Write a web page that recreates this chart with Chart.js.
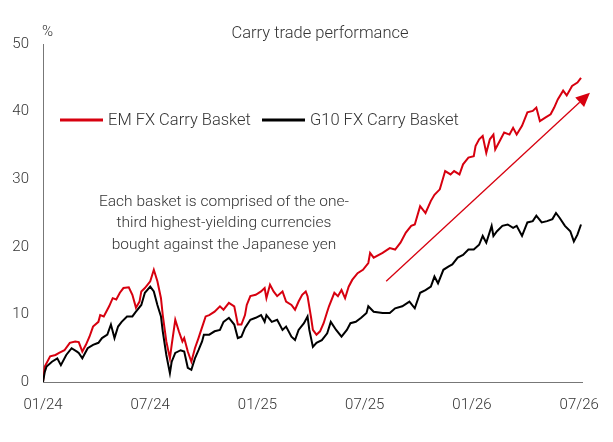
<!DOCTYPE html>
<html>
<head>
<meta charset="utf-8">
<title>Carry trade performance</title>
<script src="https://cdn.jsdelivr.net/npm/chart.js@4.4.1/dist/chart.umd.min.js"></script>
<style>
  html, body { margin: 0; padding: 0; background: #fff; }
  #wrap { width: 613px; height: 442px; }
</style>
</head>
<body>
<div id="wrap"><canvas id="carry-chart" width="613" height="442"></canvas></div>
<script>
// Dados (x = meses desde 01/24, y = %)
const tickMonths = [0, 6, 12, 18, 24, 30];
const tickLabels = ['01/24', '07/24', '01/25', '07/25', '01/26', '07/26'];

const emMonths = [
  0.0, 0.1, 0.4, 0.7, 0.9, 1.2, 1.5, 1.8, 2.0, 2.2, 2.4, 2.6, 2.8, 3.1, 3.2, 3.4, 3.7, 3.9, 4.1, 4.3,
  4.5, 4.8, 5.0, 5.2, 5.4, 5.5, 5.7, 6.0, 6.2, 6.4, 6.6, 6.7, 6.9, 7.1, 7.2, 7.4, 7.6, 7.8, 7.9, 8.1,
  8.3, 8.5, 8.7, 8.8, 9.0, 9.1, 9.3, 9.6, 9.9, 10.1, 10.4, 10.7, 10.9, 11.1, 11.3, 11.4, 11.6, 11.9, 12.2, 12.4,
  12.5, 12.7, 12.9, 13.1, 13.4, 13.6, 13.9, 14.1, 14.3, 14.5, 14.7, 14.8, 15.0, 15.1, 15.3, 15.5, 15.7, 15.9, 16.0, 16.3,
  16.5, 16.7, 16.9, 17.1, 17.3, 17.6, 17.9, 18.2, 18.3, 18.5, 19.0, 19.4, 19.7, 20.0, 20.3, 20.6, 20.8, 21.1, 21.4, 21.7,
  21.9, 22.2, 22.5, 22.8, 23.0, 23.3, 23.5, 23.8, 24.1, 24.2, 24.4, 24.6, 24.8, 25.0, 25.2, 25.3, 25.5, 25.8, 26.1, 26.3,
  26.5, 26.8, 27.1, 27.4, 27.6, 27.8, 28.1, 28.4, 28.6, 28.8, 29.1, 29.3, 29.6, 29.9, 30.1
];
const emValues = [
  0.0, 2.3, 3.8, 4.0, 4.3, 4.7, 5.8, 6.0, 5.9, 4.5, 5.5, 6.7, 8.2, 8.9, 9.9, 9.7, 11.2, 12.4, 12.2, 13.2,
  13.9, 14.0, 12.9, 11.0, 11.9, 13.4, 13.9, 14.9, 16.6, 14.9, 12.4, 9.9, 6.0, 3.5, 5.5, 9.2, 7.5, 6.0, 6.5, 4.5,
  3.0, 5.0, 6.5, 7.3, 8.9, 9.7, 9.9, 10.4, 11.2, 10.7, 11.7, 11.2, 8.5, 8.5, 9.9, 11.4, 12.7, 12.9, 13.4, 13.9,
  12.4, 14.4, 13.4, 12.7, 13.4, 11.9, 11.4, 10.7, 11.9, 12.9, 13.4, 12.7, 9.5, 7.7, 7.0, 7.5, 8.7, 10.4, 11.2, 13.2,
  12.7, 13.6, 12.4, 14.1, 15.1, 16.1, 16.6, 17.6, 19.1, 18.4, 19.1, 19.8, 19.6, 20.6, 22.1, 23.1, 23.3, 26.0, 25.0, 26.8,
  27.7, 28.5, 31.2, 30.7, 31.2, 30.7, 32.2, 33.2, 33.4, 34.9, 35.9, 36.4, 33.9, 35.9, 36.6, 34.4, 35.4, 36.9, 36.6, 37.6,
  36.6, 37.9, 39.9, 40.1, 40.6, 38.6, 39.1, 39.6, 40.6, 41.8, 43.1, 42.4, 43.8, 44.3, 45.0
];

const g10Months = [
  0.0, 0.1, 0.2, 0.5, 0.8, 1.0, 1.3, 1.6, 1.9, 2.0, 2.2, 2.5, 2.8, 3.1, 3.3, 3.6, 3.8, 4.0, 4.2, 4.4,
  4.7, 5.0, 5.2, 5.5, 5.7, 6.0, 6.2, 6.4, 6.6, 6.7, 6.9, 7.1, 7.2, 7.4, 7.7, 7.9, 8.1, 8.3, 8.5, 8.7,
  8.9, 9.0, 9.3, 9.6, 9.9, 10.1, 10.4, 10.7, 10.9, 11.1, 11.3, 11.6, 11.9, 12.2, 12.4, 12.5, 12.8, 13.1, 13.4, 13.6,
  13.9, 14.1, 14.3, 14.6, 14.8, 14.9, 15.1, 15.3, 15.6, 15.9, 16.1, 16.4, 16.7, 17.0, 17.2, 17.5, 17.8, 18.1, 18.2, 18.5,
  19.0, 19.4, 19.7, 20.1, 20.5, 20.8, 21.1, 21.4, 21.7, 21.9, 22.1, 22.4, 22.7, 22.9, 23.2, 23.5, 23.8, 24.1, 24.4, 24.6,
  24.8, 25.1, 25.2, 25.4, 25.7, 26.0, 26.3, 26.5, 26.8, 27.1, 27.4, 27.6, 27.9, 28.2, 28.5, 28.7, 28.9, 29.2, 29.5, 29.7,
  29.9, 30.1
];
const g10Values = [
  0.0, 1.5, 2.3, 3.0, 3.5, 2.5, 4.0, 5.0, 4.5, 4.3, 3.5, 5.0, 5.5, 5.8, 6.5, 7.0, 8.5, 6.5, 8.2, 8.9,
  9.7, 9.7, 10.4, 11.4, 13.2, 14.1, 13.4, 11.4, 9.7, 7.5, 4.0, 1.3, 3.0, 4.3, 4.7, 4.5, 2.1, 1.8, 3.5, 4.7,
  6.0, 7.0, 7.0, 7.5, 7.7, 8.9, 9.5, 8.5, 6.5, 6.7, 8.0, 9.2, 9.5, 9.9, 8.9, 9.9, 8.9, 9.2, 7.7, 8.2,
  6.7, 6.2, 7.7, 8.7, 9.7, 7.7, 5.2, 5.8, 6.2, 7.2, 8.9, 7.7, 6.7, 7.7, 8.7, 8.9, 9.5, 10.2, 11.2, 10.4,
  10.2, 10.2, 10.9, 11.2, 11.9, 10.9, 13.2, 13.6, 14.1, 15.6, 14.6, 16.6, 17.1, 17.4, 18.4, 18.8, 19.6, 19.6, 20.3, 21.6,
  20.6, 23.1, 21.6, 22.3, 23.1, 23.3, 22.8, 23.1, 21.6, 23.6, 23.8, 24.6, 23.6, 23.8, 24.1, 25.0, 24.3, 23.1, 22.3, 20.8,
  21.8, 23.3
];

const annotationLines = [
  'Each basket is comprised of the one-',
  'third highest-yielding currencies',
  'bought against the Japanese yen'
];

const RED = '#d7000f';
const BLACK = '#000000';
const TEXT = '#333333';
const FONT = 'Roboto, "Liberation Sans", Arial, sans-serif';

function toPoints(xs, ys) {
  return xs.map((x, i) => ({ x: x, y: ys[i] }));
}

// Textos, legenda e seta desenhados sobre o gráfico
const overlayPlugin = {
  id: 'overlay',
  afterDraw(chart) {
    const ctx = chart.ctx;
    const xs = chart.scales.x;
    const ys = chart.scales.y;
    ctx.save();
    ctx.fillStyle = TEXT;
    ctx.textBaseline = 'middle';

    // titulo
    ctx.font = '300 16.5px ' + FONT;
    ctx.textAlign = 'center';
    ctx.fillText('Carry trade performance', 320, 34);

    // unidade
    ctx.font = '300 15px ' + FONT;
    ctx.textAlign = 'left';
    ctx.fillText('%', 42, 32);

    // legenda
    ctx.font = '300 16.5px ' + FONT;
    ctx.lineWidth = 3;
    ctx.strokeStyle = RED;
    ctx.beginPath(); ctx.moveTo(60, 120); ctx.lineTo(103, 120); ctx.stroke();
    ctx.fillText('EM FX Carry Basket', 108, 121);
    ctx.strokeStyle = BLACK;
    ctx.beginPath(); ctx.moveTo(262, 120); ctx.lineTo(305, 120); ctx.stroke();
    ctx.fillText('G10 FX Carry Basket', 310, 121);

    // nota
    ctx.font = '300 15.5px ' + FONT;
    ctx.textAlign = 'center';
    annotationLines.forEach((line, i) => {
      ctx.fillText(line, 224, 202 + i * 21.5);
    });

    // seta
    const x0 = xs.getPixelForValue(19.2), y0 = ys.getPixelForValue(14.9);
    const x1 = xs.getPixelForValue(30.6), y1 = ys.getPixelForValue(42.8);
    const ang = Math.atan2(y1 - y0, x1 - x0);
    const headLen = 14, headW = 6.5;
    const bx = x1 - headLen * Math.cos(ang), by = y1 - headLen * Math.sin(ang);
    ctx.strokeStyle = RED;
    ctx.fillStyle = RED;
    ctx.lineWidth = 1.3;
    ctx.beginPath(); ctx.moveTo(x0, y0); ctx.lineTo(bx, by); ctx.stroke();
    ctx.beginPath();
    ctx.moveTo(x1, y1);
    ctx.lineTo(bx + headW * Math.sin(ang), by - headW * Math.cos(ang));
    ctx.lineTo(bx - headW * Math.sin(ang), by + headW * Math.cos(ang));
    ctx.closePath();
    ctx.fill();
    ctx.restore();
  }
};

const canvas = document.getElementById('carry-chart');
new Chart(canvas, {
  type: 'line',
  data: {
    datasets: [
      {
        label: 'EM FX Carry Basket',
        data: toPoints(emMonths, emValues),
        borderColor: RED,
        borderWidth: 2,
        pointRadius: 0,
        tension: 0,
        order: 1
      },
      {
        label: 'G10 FX Carry Basket',
        data: toPoints(g10Months, g10Values),
        borderColor: BLACK,
        borderWidth: 2,
        pointRadius: 0,
        tension: 0,
        order: 0
      }
    ]
  },
  options: {
    responsive: false,
    animation: false,
    devicePixelRatio: 1,
    layout: { padding: { top: 44, right: 23, left: 0, bottom: 0 } },
    plugins: {
      legend: { display: false },
      title: { display: false },
      tooltip: { enabled: false }
    },
    scales: {
      x: {
        type: 'linear',
        min: 0,
        max: 30.2,
        afterBuildTicks(scale) {
          scale.ticks = tickMonths.map(v => ({ value: v }));
        },
        afterFit(scale) { scale.height = 60; },
        ticks: {
          autoSkip: false,
          maxRotation: 0,
          padding: 14,
          color: TEXT,
          font: { family: FONT, size: 15, weight: '300' },
          callback: (v) => tickLabels[tickMonths.indexOf(v)]
        },
        grid: { display: false, drawTicks: false },
        border: { display: true, color: '#777777', width: 1 }
      },
      y: {
        min: 0,
        max: 50,
        afterFit(scale) { scale.width = 43; },
        ticks: {
          stepSize: 10,
          padding: 14,
          color: TEXT,
          font: { family: FONT, size: 15, weight: '300' }
        },
        grid: { display: false, drawTicks: false },
        border: { display: true, color: '#777777', width: 1 }
      }
    }
  },
  plugins: [overlayPlugin]
});
</script>
</body>
</html>
